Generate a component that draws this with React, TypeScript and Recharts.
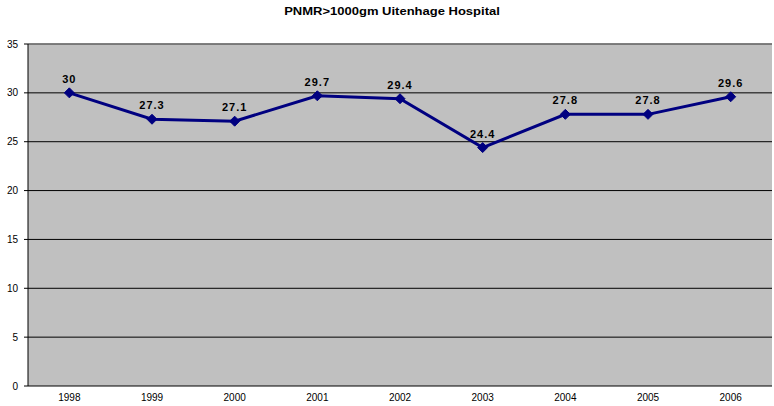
import React from 'react';
import { LineChart, Line, XAxis, YAxis, CartesianGrid, LabelList, ReferenceLine } from 'recharts';

const years = ['1998', '1999', '2000', '2001', '2002', '2003', '2004', '2005', '2006'];
const pnmr = [30, 27.3, 27.1, 29.7, 29.4, 24.4, 27.8, 27.8, 29.6];
const yTicks = [0, 5, 10, 15, 20, 25, 30, 35];
const labelTicks = years.map((_, i) => i);
const boundaryTicks = [-0.5, 0.5, 1.5, 2.5, 3.5, 4.5, 5.5, 6.5, 7.5, 8.5];

const data = years.map((y, i) => ({ idx: i, year: y, value: pnmr[i] }));

const Diamond = (props: any) => {
  const { cx, cy } = props;
  if (cx == null || cy == null) return null;
  const r = 5;
  return (
    <polygon
      points={`${cx},${cy - r} ${cx + r},${cy} ${cx},${cy + r} ${cx - r},${cy}`}
      fill="#000080"
      stroke="#000080"
    />
  );
};

export default function App() {
  return (
    <div style={{ position: 'absolute', left: 0, top: 0, width: 774, height: 406, background: '#fff', fontFamily: 'Arial, "Liberation Sans", sans-serif' }}>
      <div
        style={{
          position: 'absolute',
          top: 6,
          left: 0,
          width: 784,
          textAlign: 'center',
          fontSize: 10,
          fontWeight: 'bold',
          transform: 'scaleX(1.3)',
          transformOrigin: '392px 0',
          color: '#000',
        }}
      >
        PNMR&gt;1000gm Uitenhage Hospital
      </div>
      <LineChart width={774} height={406} data={data} margin={{ top: 44, right: 2, left: 0, bottom: 0 }}>
        <CartesianGrid vertical={false} stroke="#000" fill="#c0c0c0" />
        <XAxis
          xAxisId="marks"
          dataKey="idx"
          type="number"
          domain={[-0.5, 8.5]}
          ticks={boundaryTicks}
          tickFormatter={() => ''}
          tickSize={5}
          height={0}
          stroke="#000"
          axisLine={{ stroke: '#222' }}
          interval={0}
        />
        <XAxis
          dataKey="idx"
          type="number"
          domain={[-0.5, 8.5]}
          ticks={labelTicks}
          tickFormatter={(i: number) => years[i]}
          tickLine={false}
          axisLine={false}
          tickSize={0}
          tickMargin={8}
          height={20}
          interval={0}
          tick={{ fontSize: 10, fill: '#000', fontFamily: 'Arial, "Liberation Sans", sans-serif' }}
        />
        <YAxis
          domain={[0, 35]}
          ticks={yTicks}
          width={28}
          tickSize={4}
          tickMargin={6}
          stroke="#000"
          interval={0}
          tick={{ fontSize: 10, fill: '#000', fontFamily: 'Arial, "Liberation Sans", sans-serif' }}
        />
        <ReferenceLine y={35} stroke="#808080" strokeWidth={1.5} />
        <Line
          dataKey="value"
          stroke="#000080"
          strokeWidth={3}
          dot={<Diamond />}
          activeDot={false}
          isAnimationActive={false}
        >
          <LabelList
            dataKey="value"
            position="top"
            offset={10}
            style={{ fontSize: 11, fontWeight: 'bold', fill: '#000', letterSpacing: 1, fontFamily: 'Arial, "Liberation Sans", sans-serif' }}
          />
        </Line>
      </LineChart>
    </div>
  );
}
